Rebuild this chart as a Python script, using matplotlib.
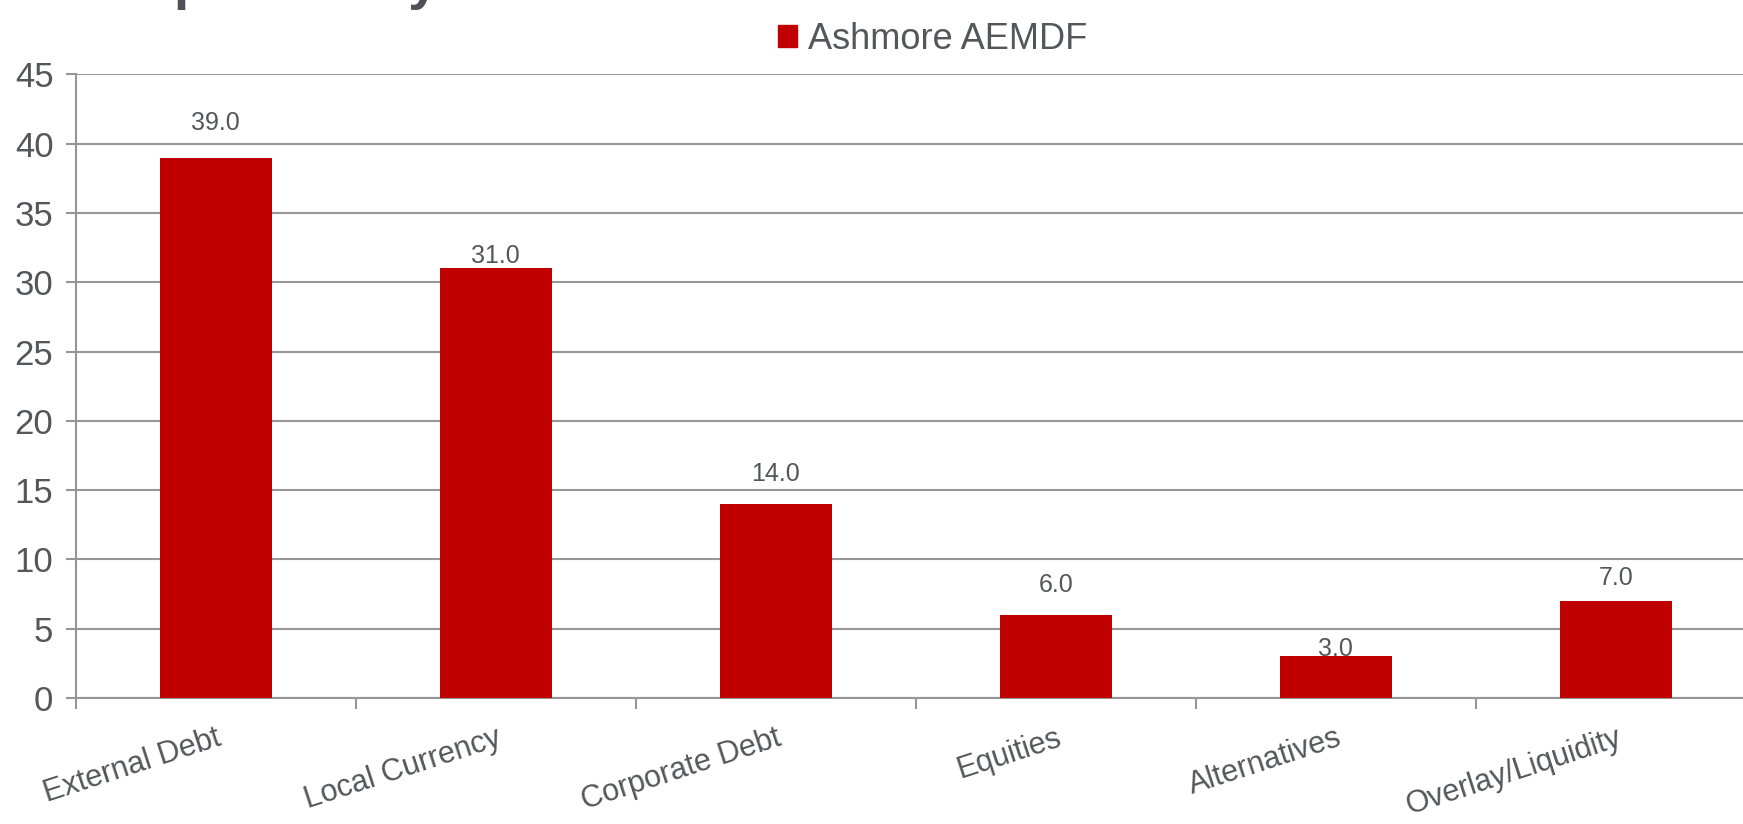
import matplotlib
matplotlib.use("Agg")
import matplotlib.pyplot as plt
from matplotlib.patches import Patch

categories = ["External Debt", "Local Currency", "Corporate Debt",
              "Equities", "Alternatives", "Overlay/Liquidity"]
values = [39.0, 31.0, 14.0, 6.0, 3.0, 7.0]
series_name = "Ashmore AEMDF"
y_ticks = [0, 5, 10, 15, 20, 25, 30, 35, 40, 45]

# gap between bar top and its value label, in points (as placed in the original)
label_gap = [16, 0, 13, 13, -3, 8]

red = "#c00000"
txt = "#55565b"
grid_col = "#969696"

plt.rcParams["font.family"] = ["Liberation Sans", "DejaVu Sans"]

fig = plt.figure(figsize=(17.43, 8.24), dpi=100)
ax = fig.add_axes([0.0434, 0.153, 0.964, 0.7567])

x = range(len(categories))
bars = ax.bar(x, values, width=0.4, color=red, zorder=3)

for b, v, g in zip(bars, values, label_gap):
    ax.annotate("%.1f" % v, (b.get_x() + b.get_width() / 2, v),
                xytext=(0, g), textcoords="offset points",
                ha="center", va="bottom", fontsize=18, color=txt)

ax.set_xlim(-0.5, len(categories) - 0.5)
ax.set_ylim(0, 45)
ax.set_yticks(y_ticks)
ax.yaxis.grid(True, color=grid_col, lw=1.5, zorder=0)
ax.set_axisbelow(True)

ax.set_xticks(list(x))
ax.set_xticklabels(categories, rotation=18, ha="right", va="top",
                   rotation_mode="anchor", fontsize=22, color=txt)
ax.set_xticks([i - 0.5 for i in range(len(categories) + 1)], minor=True)
ax.tick_params(axis="x", which="major", length=0, pad=18)
ax.tick_params(axis="x", which="minor", length=8, width=1.5, color=grid_col)
ax.tick_params(axis="y", length=7, width=1.5, color=grid_col, pad=9,
               labelsize=25, labelcolor=txt)

for s in ["top", "right"]:
    ax.spines[s].set_visible(False)
for s in ["left", "bottom"]:
    ax.spines[s].set_color(grid_col)
    ax.spines[s].set_linewidth(1.5)

ax.legend(handles=[Patch(color=red, label=series_name)], loc="lower center",
          bbox_to_anchor=(0.51, 1.028), frameon=False, fontsize=26,
          labelcolor=txt, handlelength=0.55, handleheight=0.55,
          handletextpad=0.3, borderaxespad=0, borderpad=0)

# slide title, cut off by the top edge in the original
fig.text(0.061, 1.003, "Exposure by asset class", fontsize=40,
         fontweight="bold", color="#505058", va="baseline", ha="left")

fig.savefig("out.png", dpi=100)
